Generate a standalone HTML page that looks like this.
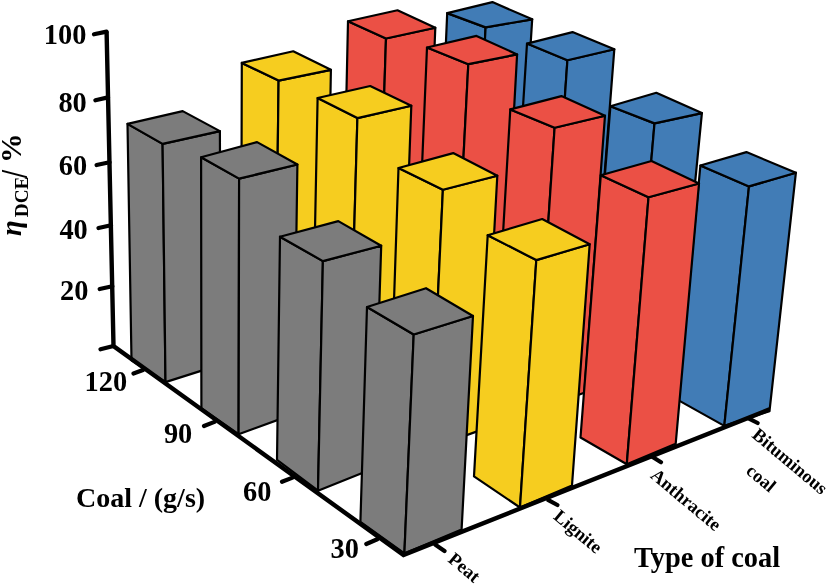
<!DOCTYPE html>
<html><head><meta charset="utf-8"><title>3D bar chart</title>
<style>
html,body{margin:0;padding:0;background:#fff;}
body{width:827px;height:584px;overflow:hidden;}
svg{display:block;}
text{font-family:"Liberation Serif",serif;font-weight:bold;fill:#000;}
</style></head><body>
<svg width="827" height="584" viewBox="0 0 827 584">
<rect width="827" height="584" fill="#fff"/>
<g stroke="#000" stroke-width="2.2" stroke-linejoin="round">
<g fill="#417cb6">
<polygon points="447.2,13.1 485.6,27.4 471.8,288.0 436.1,268.7"/>
<polygon points="485.6,27.4 532.2,19.3 516.0,274.6 471.8,288.0"/>
<polygon points="447.2,13.1 492.4,2.1 532.2,19.3 485.6,27.4"/>
</g>
<g fill="#417cb6">
<polygon points="527.0,43.6 567.4,60.3 548.9,329.9 510.2,308.9"/>
<polygon points="567.4,60.3 614.3,49.3 593.6,315.1 548.9,329.9"/>
<polygon points="527.0,43.6 572.5,32.1 614.3,49.3 567.4,60.3"/>
</g>
<g fill="#417cb6">
<polygon points="610.4,106.3 654.5,123.4 632.7,375.4 590.6,352.5"/>
<polygon points="654.5,123.4 701.9,113.1 677.8,359.2 632.7,375.4"/>
<polygon points="610.4,106.3 656.3,92.8 701.9,113.1 654.5,123.4"/>
</g>
<g fill="#417cb6">
<polygon points="700.4,165.5 749.0,186.4 724.3,425.9 678.2,400.1"/>
<polygon points="749.0,186.4 795.9,172.7 769.5,411.1 724.3,425.9"/>
<polygon points="700.4,165.5 746.4,152.1 795.9,172.7 749.0,186.4"/>
</g>
<g fill="#eb5045">
<polygon points="348.0,21.3 386.0,38.5 377.0,316.9 342.0,296.3"/>
<polygon points="386.0,38.5 435.3,27.7 424.4,302.5 377.0,316.9"/>
<polygon points="348.0,21.3 397.5,10.3 435.3,27.7 386.0,38.5"/>
</g>
<g fill="#eb5045">
<polygon points="427.0,47.5 468.3,64.2 452.9,361.6 414.8,339.1"/>
<polygon points="468.3,64.2 517.1,54.4 501.0,345.7 452.9,361.6"/>
<polygon points="427.0,47.5 476.5,35.9 517.1,54.4 468.3,64.2"/>
</g>
<g fill="#eb5045">
<polygon points="510.3,109.4 554.6,127.8 535.7,410.3 494.1,385.8"/>
<polygon points="554.6,127.8 605.0,115.7 584.3,392.8 535.7,410.3"/>
<polygon points="510.3,109.4 561.4,96.1 605.0,115.7 554.6,127.8"/>
</g>
<g fill="#eb5045">
<polygon points="600.8,175.2 648.5,197.3 626.8,464.2 580.5,437.5"/>
<polygon points="648.5,197.3 699.0,183.5 675.7,443.7 626.8,464.2"/>
<polygon points="600.8,175.2 651.5,161.0 699.0,183.5 648.5,197.3"/>
</g>
<g fill="#f6cd1f">
<polygon points="241.8,62.9 278.6,80.6 275.3,347.9 241.1,325.9"/>
<polygon points="278.6,80.6 330.9,69.8 326.2,332.4 275.3,347.9"/>
<polygon points="241.8,62.9 293.2,51.3 330.9,69.8 278.6,80.6"/>
</g>
<g fill="#f6cd1f">
<polygon points="317.6,98.0 357.4,118.1 349.5,395.7 312.2,371.7"/>
<polygon points="357.4,118.1 411.3,105.7 401.3,378.6 349.5,395.7"/>
<polygon points="317.6,98.0 370.2,86.0 411.3,105.7 357.4,118.1"/>
</g>
<g fill="#f6cd1f">
<polygon points="398.5,168.0 442.9,189.8 430.8,448.0 389.9,421.7"/>
<polygon points="442.9,189.8 497.3,175.7 483.4,429.1 430.8,448.0"/>
<polygon points="398.5,168.0 453.2,153.1 497.3,175.7 442.9,189.8"/>
</g>
<g fill="#f6cd1f">
<polygon points="487.7,235.2 536.3,260.1 520.0,507.5 474.0,476.4"/>
<polygon points="536.3,260.1 589.7,244.2 572.0,485.5 520.0,507.5"/>
<polygon points="487.7,235.2 542.2,219.0 589.7,244.2 536.3,260.1"/>
</g>
<g fill="#7c7c7c">
<polygon points="127.5,123.9 162.6,143.9 165.5,382.1 131.5,360.3"/>
<polygon points="162.6,143.9 219.9,131.1 220.6,364.6 165.5,382.1"/>
<polygon points="127.5,123.9 182.7,111.1 219.9,131.1 162.6,143.9"/>
</g>
<g fill="#7c7c7c">
<polygon points="201.1,157.3 239.1,178.6 238.6,434.2 201.4,408.5"/>
<polygon points="239.1,178.6 297.4,164.5 293.8,414.1 238.6,434.2"/>
<polygon points="201.1,157.3 257.1,142.1 297.4,164.5 239.1,178.6"/>
</g>
<g fill="#7c7c7c">
<polygon points="280.0,236.7 322.9,261.1 318.0,490.7 277.0,459.9"/>
<polygon points="322.9,261.1 381.2,245.7 374.1,468.3 318.0,490.7"/>
<polygon points="280.0,236.7 338.3,221.1 381.2,245.7 322.9,261.1"/>
</g>
<g fill="#7c7c7c">
<polygon points="367.0,307.0 413.7,334.5 404.4,553.5 360.4,522.0"/>
<polygon points="413.7,334.5 473.0,316.0 461.6,529.5 404.4,553.5"/>
<polygon points="367.0,307.0 426.0,288.2 473.0,316.0 413.7,334.5"/>
</g>
</g>
<polyline points="106.6,31.6 113.5,346 403.5,554.9 769.6,409.3" stroke="#000" stroke-width="4.4" stroke-linejoin="miter" stroke-miterlimit="10" fill="none"/>
<g stroke="#000" stroke-width="4.2" stroke-linecap="round" stroke-linejoin="round" fill="none">
<!-- z ticks -->
<path d="M94,34.3 L106.6,31.6 M95.4,100.3 L108,97.4 M96.6,165 L109.5,162.2 M98.5,228 L111,225.2 M99.7,289 L112.3,286.2 M100.5,349.3 L113.5,346"/>
<!-- y ticks -->
<path d="M133.5,373.5 L143,370 M204,426 L214.5,421.9 M282,481.8 L292.6,477.6 M366.3,544 L377.3,539.3"/>
<!-- x ticks -->
<path d="M435.4,544.8 L444.5,551 M548.4,500.2 L557.4,505 M652.6,457 L661,462.2 M748.5,418.3 L757.6,423"/>
</g>
<g font-size="28.4px" text-anchor="end">
<text x="86.4" y="44.3">100</text>
<text x="86.8" y="111.5">80</text>
<text x="87.2" y="174.5">60</text>
<text x="87.8" y="238.6">40</text>
<text x="88.5" y="299.6">20</text>
<text x="127.2" y="390.6">120</text>
<text transform="translate(192.3,442.6) scale(1,1.035)">90</text>
<text transform="translate(271.5,501.2) scale(1,1.035)">60</text>
<text transform="translate(359,558.2) scale(1,1.035)">30</text>
</g>
<text font-size="28px" x="76" y="506.6">Coal / (g/s)</text>
<text font-size="28.4px" x="634" y="566.8">Type of coal</text>
<g transform="translate(20.5,0) rotate(-90)">
<text font-size="28.5px" font-style="italic" x="-236" y="0">η</text>
<text font-size="19px" x="-217.2" y="7.2" textLength="40.5" lengthAdjust="spacingAndGlyphs">DCE</text>
<text font-size="28.5px" transform="translate(-178,6) scale(1,1.33)" x="0" y="0">/</text>
<text font-size="28.5px" transform="translate(-163,0) scale(1.04,1)" x="0" y="0">%</text>
</g>
<g font-size="18.5px">
<text transform="translate(447,561) rotate(40)">Peat</text>
<text transform="translate(552.5,518) rotate(40)">Lignite</text>
<text transform="translate(649.5,477) rotate(40)">Anthracite</text>
<text transform="translate(751,436.5) rotate(40)">Bituminous</text>
<text transform="translate(745,472.6) rotate(40)">coal</text>
</g>
</svg>
</body></html>
